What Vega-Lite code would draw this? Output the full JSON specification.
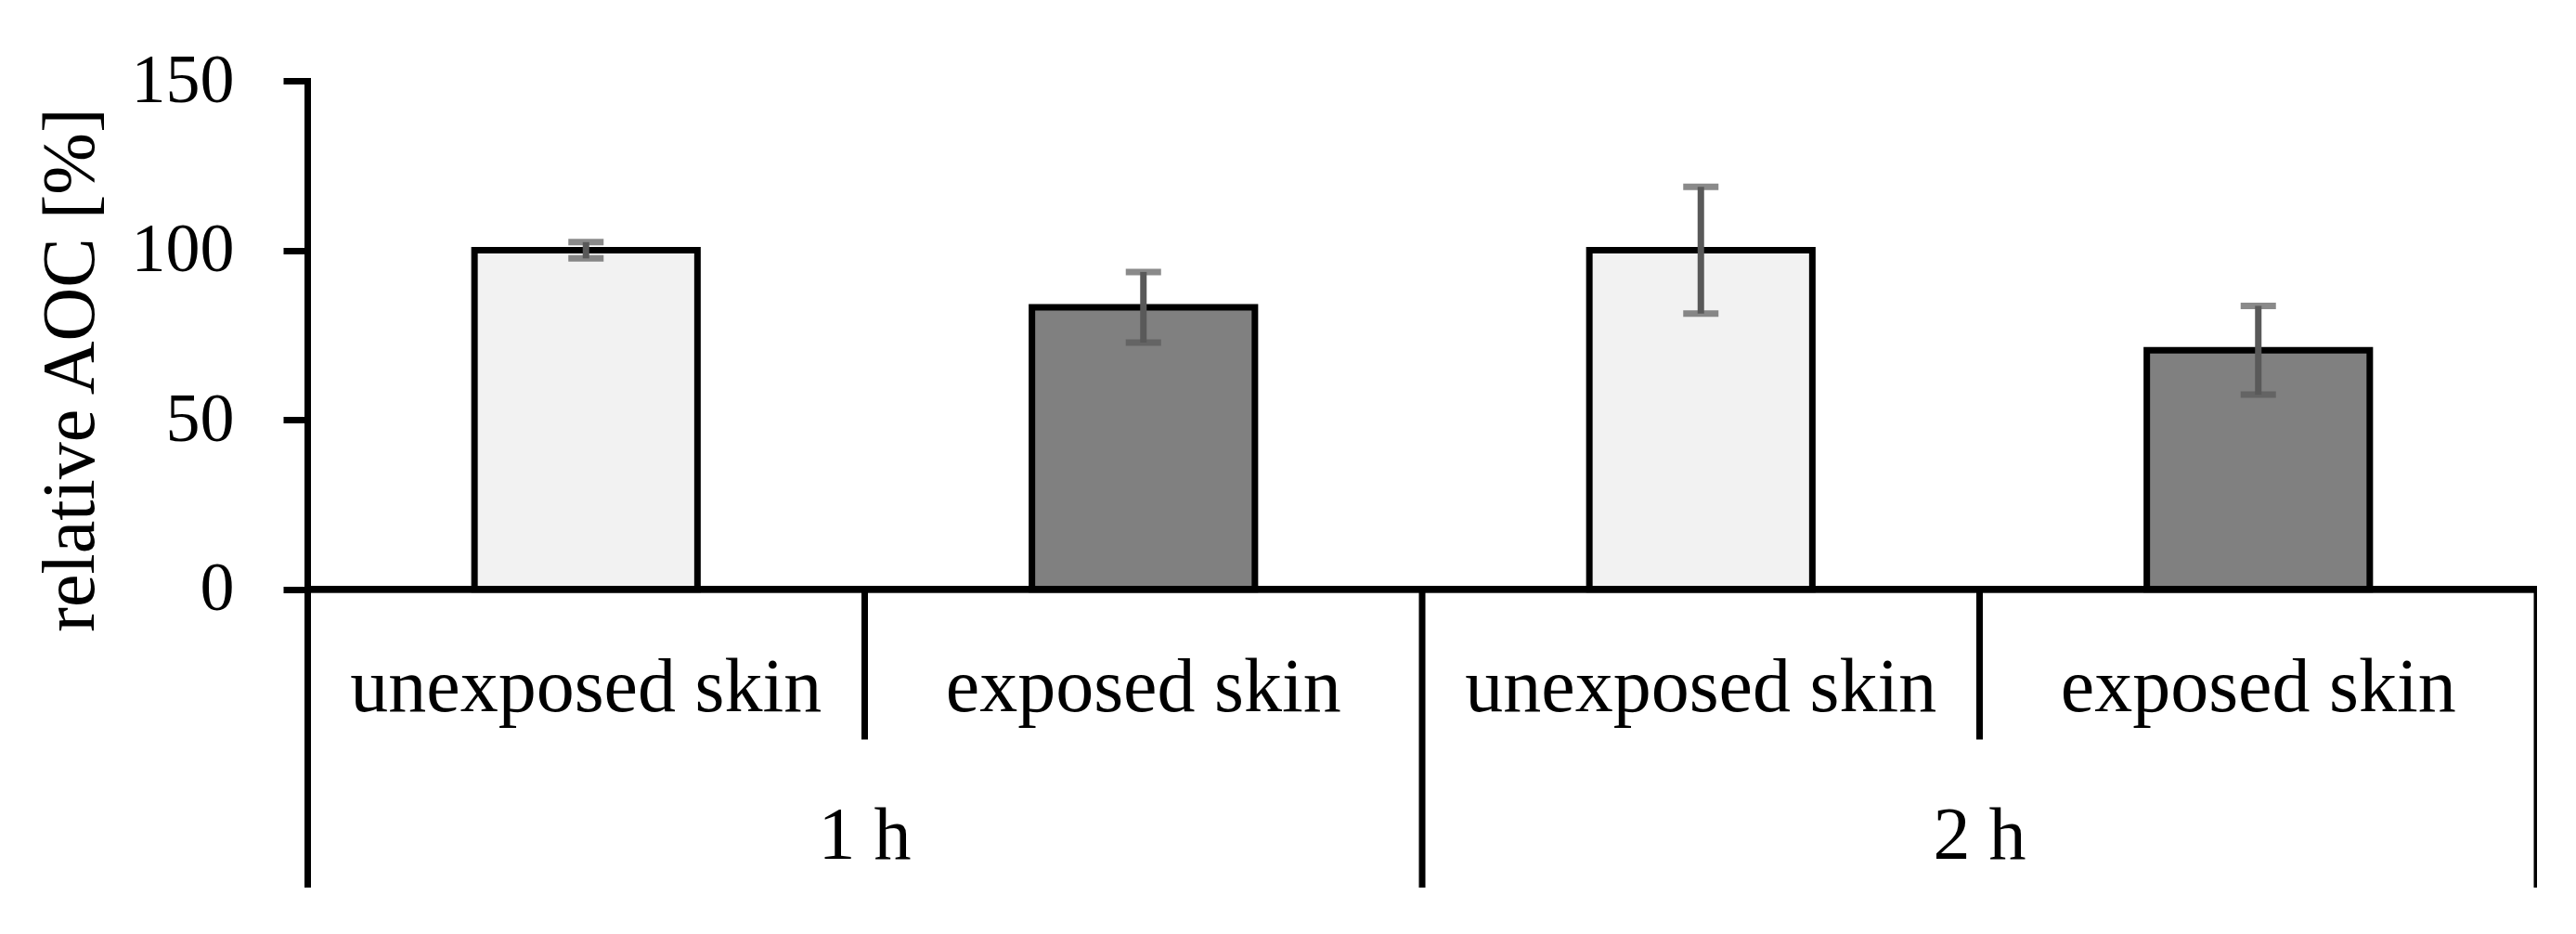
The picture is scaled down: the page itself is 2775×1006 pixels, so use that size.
{
  "$schema": "https://vega.github.io/schema/vega-lite/v6.json",
  "autosize": {"type": "none"},
  "padding": {"left": 331, "top": 87, "right": 0, "bottom": 0},
  "width": 2402,
  "height": 869,
  "background": "white",
  "config": {
    "view": {"stroke": null},
    "font": "Liberation Serif"
  },
  "data": {
    "values": [
      {"group": "1 h", "sub": "unexposed skin", "key": "1 h unexposed skin", "mean": 100, "sd": 2.4},
      {"group": "1 h", "sub": "exposed skin", "key": "1 h exposed skin", "mean": 83.2, "sd": 10.4},
      {"group": "2 h", "sub": "unexposed skin", "key": "2 h unexposed skin", "mean": 100, "sd": 18.7},
      {"group": "2 h", "sub": "exposed skin", "key": "2 h exposed skin", "mean": 70.5, "sd": 13.1}
    ]
  },
  "layer": [
    {
      "mark": {"type": "bar", "width": {"band": 0.4}, "stroke": "black", "strokeWidth": 7},
      "encoding": {
        "x": {"field": "key", "type": "nominal", "sort": null, "axis": null,
              "scale": {"domain": ["1 h unexposed skin", "1 h exposed skin", "2 h unexposed skin", "2 h exposed skin"], "paddingInner": 0, "paddingOuter": 0}},
        "y": {"field": "mean", "type": "quantitative", "title": "relative AOC [%]",
              "scale": {"domain": [-88, 150], "nice": false, "zero": false},
              "axis": {
                "values": [0, 50, 100, 150],
                "grid": false,
                "tickSize": 26,
                "tickWidth": 7,
                "tickColor": "black",
                "domainColor": "black",
                "domainWidth": 7,
                "domainCap": "square",
                "labelFont": "Liberation Serif",
                "labelFontSize": 74,
                "labelColor": "black",
                "labelPadding": 53,
                "titleFont": "Liberation Serif",
                "titleFontSize": 80,
                "titleFontWeight": "normal",
                "titleColor": "black",
                "titleX": -255,
                "titleY": 311,
                "titleAngle": 270,
                "titleAlign": "center",
                "titleBaseline": "middle"
              }},
        "color": {"field": "sub", "type": "nominal", "legend": null,
                  "scale": {"domain": ["unexposed skin", "exposed skin"], "range": ["#f2f2f2", "#808080"]}}
      }
    },
    {
      "mark": {"type": "rule", "color": "black", "strokeWidth": 7},
      "encoding": {"y": {"datum": 0}}
    },
    {
      "mark": {"type": "errorbar", "ticks": {"size": 38, "thickness": 7, "color": "#595959"}, "rule": {"strokeWidth": 7, "color": "#595959"}},
      "encoding": {
        "x": {"field": "key", "type": "nominal", "sort": null},
        "y": {"field": "mean", "type": "quantitative", "title": "relative AOC [%]"},
        "yError": {"field": "sd"}
      }
    },
    {
      "transform": [{"filter": "datum.sub == 'exposed skin'"}],
      "mark": {"type": "rule", "color": "black", "strokeWidth": 7},
      "encoding": {
        "x": {"field": "key", "type": "nominal", "sort": null, "bandPosition": 0},
        "y": {"datum": 0},
        "y2": {"datum": -44.3}
      }
    },
    {
      "transform": [{"filter": "datum.sub == 'exposed skin'"}],
      "mark": {"type": "rule", "color": "black", "strokeWidth": 7},
      "encoding": {
        "x": {"field": "key", "type": "nominal", "sort": null, "bandPosition": 1},
        "y": {"datum": 0},
        "y2": {"datum": -88}
      }
    },
    {
      "mark": {"type": "text", "fontSize": 82, "baseline": "alphabetic", "align": "center", "color": "black", "font": "Liberation Serif"},
      "encoding": {
        "x": {"field": "key", "type": "nominal", "sort": null, "bandPosition": 0.5},
        "y": {"datum": -36.1},
        "text": {"field": "sub"}
      }
    },
    {
      "transform": [{"filter": "datum.sub == 'exposed skin'"}],
      "mark": {"type": "text", "fontSize": 80, "baseline": "alphabetic", "align": "center", "color": "black", "font": "Liberation Serif"},
      "encoding": {
        "x": {"field": "key", "type": "nominal", "sort": null, "bandPosition": 0},
        "y": {"datum": -79.5},
        "text": {"field": "group"}
      }
    }
  ]
}
